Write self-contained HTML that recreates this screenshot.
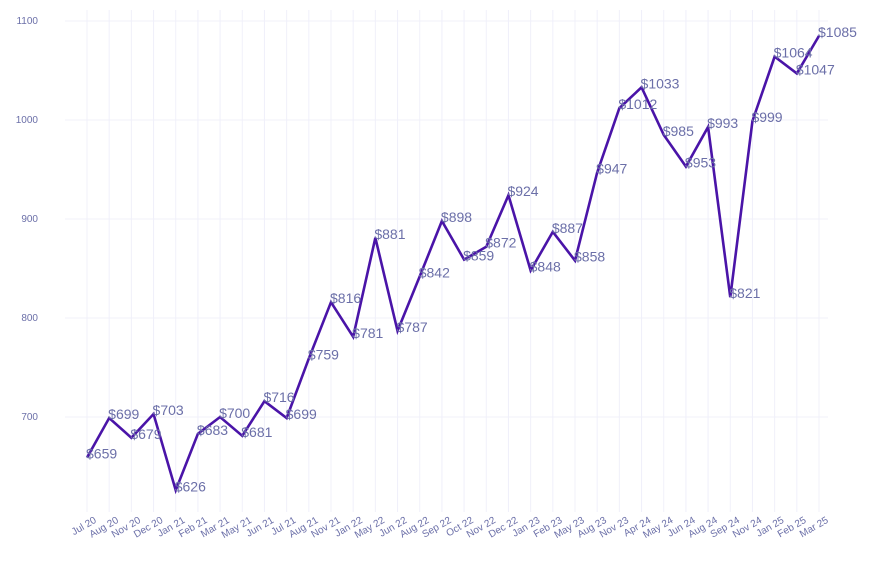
<!DOCTYPE html>
<html><head><meta charset="utf-8"><style>
body{margin:0;background:#fff;font-family:"Liberation Sans",sans-serif}
</style></head><body>
<svg id="c" width="873" height="565" xmlns="http://www.w3.org/2000/svg"></svg>
<script>
const categories=["Jul 20","Aug 20","Nov 20","Dec 20","Jan 21","Feb 21","Mar 21","May 21","Jun 21","Jul 21","Aug 21","Nov 21","Jan 22","May 22","Jun 22","Aug 22","Sep 22","Oct 22","Nov 22","Dec 22","Jan 23","Feb 23","May 23","Aug 23","Nov 23","Apr 24","May 24","Jun 24","Aug 24","Sep 24","Nov 24","Jan 25","Feb 25","Mar 25"];
const values=[659,699,679,703,626,683,700,681,716,699,759,816,781,881,787,842,898,859,872,924,848,887,858,947,1012,1033,985,953,993,821,999,1064,1047,1085];
const yTicks=[700,800,900,1000,1100];
const NS="http://www.w3.org/2000/svg",svg=document.getElementById('c');
const x0=87,x1=819,plotL=65,plotR=828,plotT=10,plotB=512;
const xs=i=>x0+(x1-x0)*i/(categories.length-1);
const ys=v=>417-(v-700)*0.99;
function mk(t,a){const e=document.createElementNS(NS,t);for(const k in a)e.setAttribute(k,a[k]);svg.appendChild(e);return e;}
yTicks.forEach(v=>{
 const g=mk('line',{x1:plotL,x2:plotR,y1:ys(v),y2:ys(v),stroke:'#f0f0fa','stroke-width':1});
 
 
 const t=mk('text',{x:38,y:ys(v)+3,'font-size':10,fill:'#6b6fa8','text-anchor':'end'});
 t.textContent=v;
 
 
});
categories.forEach((c,i)=>{
 const g=mk('line',{x1:xs(i),x2:xs(i),y1:plotT,y2:plotB,stroke:'#f0f0fa','stroke-width':1});
 
 
 const t=mk('text',{x:xs(i)+10,y:522,'font-size':10,fill:'#6b6fa8','text-anchor':'end',transform:`rotate(-30 ${xs(i)+10} 522)`});
 t.textContent=c;
 
 
});
const line=mk('polyline',{points:values.map((v,i)=>xs(i)+','+ys(v)).join(' '),fill:'none',stroke:'#4a14a8','stroke-width':2.6,'stroke-linejoin':'miter'});


values.forEach((v,i)=>{
 const t=mk('text',{x:xs(i)-1,y:ys(v)+1,'font-size':14,fill:'#6b6fa8'});
 t.textContent='$'+v;
 
 
});
</script>
</body></html>
